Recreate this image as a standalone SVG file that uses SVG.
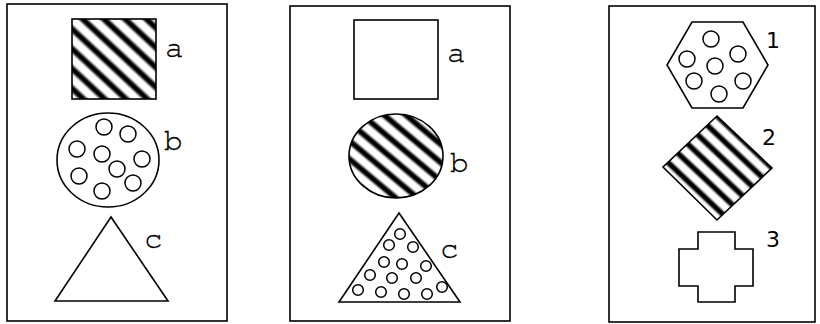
<svg xmlns="http://www.w3.org/2000/svg" width="820" height="324" viewBox="0 0 820 324">
<style>
.frame{fill:#fff;stroke:#000;stroke-width:1.6}
.sh{stroke:#000;stroke-width:1.6;fill:#fff}
.dot{fill:#fff;stroke:#000;stroke-width:1.5}
.let{font-family:'Nimbus Mono PS','Nimbus Mono L','FreeMono','Courier New','Liberation Mono',monospace;font-size:31px;fill:#000;stroke:#000;stroke-width:0.3}
.num{font-family:'DejaVu Sans','Noto Sans',sans-serif;font-size:22px;fill:#000}
</style>
<defs>
<linearGradient id="sg" x1="0" y1="0" x2="1" y2="0">
<stop offset="0" stop-color="#fff"/>
<stop offset="0.2" stop-color="#fff"/>
<stop offset="0.4" stop-color="#000"/>
<stop offset="0.6" stop-color="#000"/>
<stop offset="0.8" stop-color="#fff"/>
<stop offset="1" stop-color="#fff"/>
</linearGradient>
<pattern id="stA" patternUnits="userSpaceOnUse" width="14.5" height="20" patternTransform="translate(72,19) rotate(-47)">
<rect width="14.5" height="20" fill="url(#sg)"/>
</pattern>
<pattern id="stB" patternUnits="userSpaceOnUse" width="14" height="20" patternTransform="translate(349,113) rotate(-50)">
<rect width="14" height="20" fill="url(#sg)"/>
</pattern>
<pattern id="stC" patternUnits="userSpaceOnUse" width="13.5" height="20" patternTransform="translate(663,167) rotate(-46.6)">
<rect width="13.5" height="20" fill="url(#sg)"/>
</pattern>
</defs>

<g id="panel1">
<rect class="frame" x="7" y="4" width="220" height="317"/>
</g>
<g id="panel2">
<rect class="frame" x="290" y="6" width="220" height="315"/>
</g>
<g id="panel3">
<rect class="frame" x="609" y="6" width="206" height="316"/>
</g>

<g id="p1-a">
<rect class="sh" x="72" y="19" width="84" height="80" style="fill:url(#stA)"/>
<text class="let" x="165" y="57">a</text>
</g>
<g id="p1-b">
<ellipse class="sh" cx="108" cy="160" rx="51" ry="47"/>
<circle class="dot" cx="104" cy="127" r="8"/>
<circle class="dot" cx="128" cy="134" r="8"/>
<circle class="dot" cx="77" cy="149" r="8"/>
<circle class="dot" cx="102" cy="154" r="8"/>
<circle class="dot" cx="142" cy="159" r="8"/>
<circle class="dot" cx="117" cy="169" r="8"/>
<circle class="dot" cx="79" cy="176" r="8"/>
<circle class="dot" cx="133" cy="183" r="8"/>
<circle class="dot" cx="102" cy="191" r="8"/>
<text class="let" x="164" y="150">b</text>
</g>
<g id="p1-c">
<polygon class="sh" points="111,217 55,301 168,301"/>
<text class="let" x="144" y="248">c</text>
</g>

<g id="p2-a">
<rect class="sh" x="354" y="20" width="84" height="79"/>
<text class="let" x="447" y="62">a</text>
</g>
<g id="p2-b">
<ellipse class="sh" cx="396" cy="156" rx="47" ry="42" style="fill:url(#stB)"/>
<text class="let" x="450" y="172">b</text>
</g>
<g id="p2-c">
<polygon class="sh" points="399,213 339,302 460,302"/>
<circle class="dot" cx="400" cy="234" r="5.3"/>
<circle class="dot" cx="389" cy="245" r="5.3"/>
<circle class="dot" cx="413" cy="247" r="5.3"/>
<circle class="dot" cx="384" cy="262" r="5.3"/>
<circle class="dot" cx="402" cy="264" r="5.3"/>
<circle class="dot" cx="426" cy="266" r="5.3"/>
<circle class="dot" cx="370" cy="275" r="5.3"/>
<circle class="dot" cx="392" cy="278" r="5.3"/>
<circle class="dot" cx="416" cy="278" r="5.3"/>
<circle class="dot" cx="358" cy="290" r="5.3"/>
<circle class="dot" cx="381" cy="292" r="5.3"/>
<circle class="dot" cx="404" cy="294" r="5.3"/>
<circle class="dot" cx="427" cy="294" r="5.3"/>
<circle class="dot" cx="442" cy="287" r="5.3"/>
<text class="let" x="440" y="258">c</text>
</g>

<g id="p3-1">
<polygon class="sh" points="692,22 743,22 768,65 743,108 692,108 667,65"/>
<circle class="dot" cx="711" cy="39" r="8"/>
<circle class="dot" cx="687" cy="59" r="8"/>
<circle class="dot" cx="738" cy="54" r="8"/>
<circle class="dot" cx="715" cy="66" r="8"/>
<circle class="dot" cx="694" cy="81" r="8"/>
<circle class="dot" cx="743" cy="81" r="8"/>
<circle class="dot" cx="719" cy="94" r="8"/>
<text class="num" x="766" y="48">1</text>
</g>
<g id="p3-2">
<polygon class="sh" points="717,116 772,168 717,220 663,167" style="fill:url(#stC)"/>
<text class="num" x="762" y="145">2</text>
</g>
<g id="p3-3">
<polygon class="sh" points="698,232 735,232 735,249 753,249 753,286 735,286 735,302 698,302 698,286 679,286 679,249 698,249"/>
<text class="num" x="766" y="247">3</text>
</g>
<g id="connectors"/>
</svg>
